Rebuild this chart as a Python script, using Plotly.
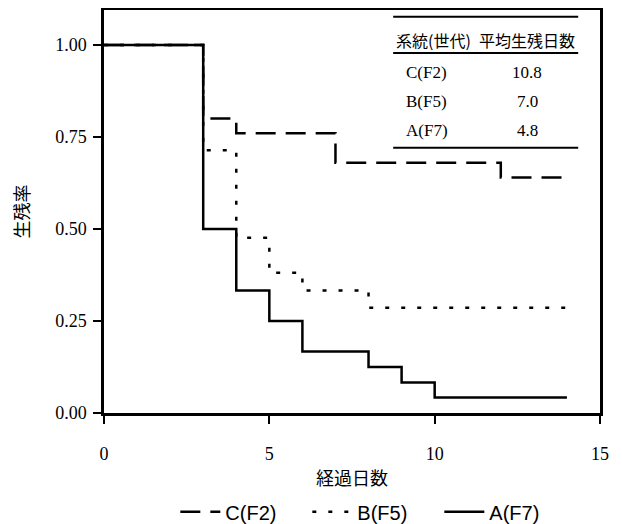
import plotly.graph_objects as go

# Data (step survival curves)
days_c = [0, 3, 4, 7, 12, 14]
surv_c = [1.00, 0.80, 0.76, 0.68, 0.64, 0.64]
days_b = [0, 3, 4, 5, 6, 8, 14]
surv_b = [1.00, 0.714, 0.476, 0.381, 0.333, 0.286, 0.286]
days_a = [0, 3, 4, 5, 6, 8, 9, 10, 14]
surv_a = [1.00, 0.50, 0.333, 0.25, 0.167, 0.125, 0.083, 0.042, 0.042]

series_names = ["C(F2)", "B(F5)", "A(F7)"]
table_header = ["系統(世代)", "平均生残日数"]
table_strains = ["C(F2)", "B(F5)", "A(F7)"]
table_means = ["10.8", "7.0", "4.8"]

x_ticks = [0, 5, 10, 15]
y_ticks = [0, 0.25, 0.5, 0.75, 1.0]

SERIF = "Liberation Serif, Times New Roman, serif"
SANS = "Liberation Sans, Noto Sans CJK JP, Arial, sans-serif"
CJK = "Noto Sans CJK JP, sans-serif"

fig = go.Figure()
fig.add_trace(go.Scatter(x=days_c, y=surv_c, mode="lines", name=series_names[0],
                         line=dict(shape="hv", color="black", width=2.5, dash="20px,10px")))
fig.add_trace(go.Scatter(x=days_b, y=surv_b, mode="lines", name=series_names[1],
                         line=dict(shape="hv", color="black", width=2.5, dash="4px,12px")))
fig.add_trace(go.Scatter(x=days_a, y=surv_a, mode="lines", name=series_names[2],
                         line=dict(shape="hv", color="black", width=2.5)))

# Table inside the plot
x1, x2 = 0.583, 0.956
for yy in [0.983, 0.893, 0.658]:
    fig.add_shape(type="line", xref="paper", yref="paper", x0=x1, x1=x2, y0=yy, y1=yy,
                  line=dict(color="black", width=2))
fig.add_annotation(xref="paper", yref="paper", x=0.665, y=0.926, text=table_header[0],
                   xanchor="center", yanchor="middle",
                   showarrow=False, font=dict(family=CJK, size=16, color="black"))
fig.add_annotation(xref="paper", yref="paper", x=0.853, y=0.926, text=table_header[1],
                   xanchor="center", yanchor="middle",
                   showarrow=False, font=dict(family=CJK, size=16, color="black"))
row_y = [0.846, 0.774, 0.702]
for s, m, yy in zip(table_strains, table_means, row_y):
    fig.add_annotation(xref="paper", yref="paper", x=0.651, y=yy, text=s, showarrow=False,
                       xanchor="center", yanchor="middle",
                       font=dict(family=SERIF, size=17, color="black"))
    fig.add_annotation(xref="paper", yref="paper", x=0.853, y=yy, text=m, showarrow=False,
                       xanchor="center", yanchor="middle",
                       font=dict(family=SERIF, size=17, color="black"))

# page body has an 8px margin, so the figure is sized/offset to compensate
fig.update_layout(
    width=614, height=516,
    margin=dict(l=96, r=22, t=2, b=111, autoexpand=False),
    paper_bgcolor="white", plot_bgcolor="white",
    showlegend=True,
    legend=dict(orientation="h", x=0.543, xanchor="center", y=-0.245, yanchor="middle",
                font=dict(family=SANS, size=20, color="black"), bgcolor="rgba(0,0,0,0)",
                itemwidth=40, entrywidth=77, entrywidthmode="pixels"),
    xaxis=dict(range=[0, 15], tickvals=x_ticks, ticks="outside", ticklen=8, tickwidth=2,
               tickcolor="black", showline=True, linecolor="black", linewidth=2.5, mirror=True,
               showgrid=False, zeroline=False, automargin=False, ticklabelstandoff=15,
               tickfont=dict(family=SERIF, size=18, color="black"),
               title=dict(text="経過日数", font=dict(family=CJK, size=18, color="black"), standoff=10)),
    yaxis=dict(range=[0, 1.095], tickvals=y_ticks, tickformat=".2f", ticks="outside", ticklen=8,
               tickwidth=2, tickcolor="black", showline=True, linecolor="black", linewidth=2.5,
               mirror=True, showgrid=False, zeroline=False, automargin=False, ticklabelstandoff=3,
               tickfont=dict(family=SERIF, size=18, color="black"),
               title=dict(text="生残率", font=dict(family=CJK, size=18, color="black"), standoff=22)),
)

fig.write_html("out.html")
